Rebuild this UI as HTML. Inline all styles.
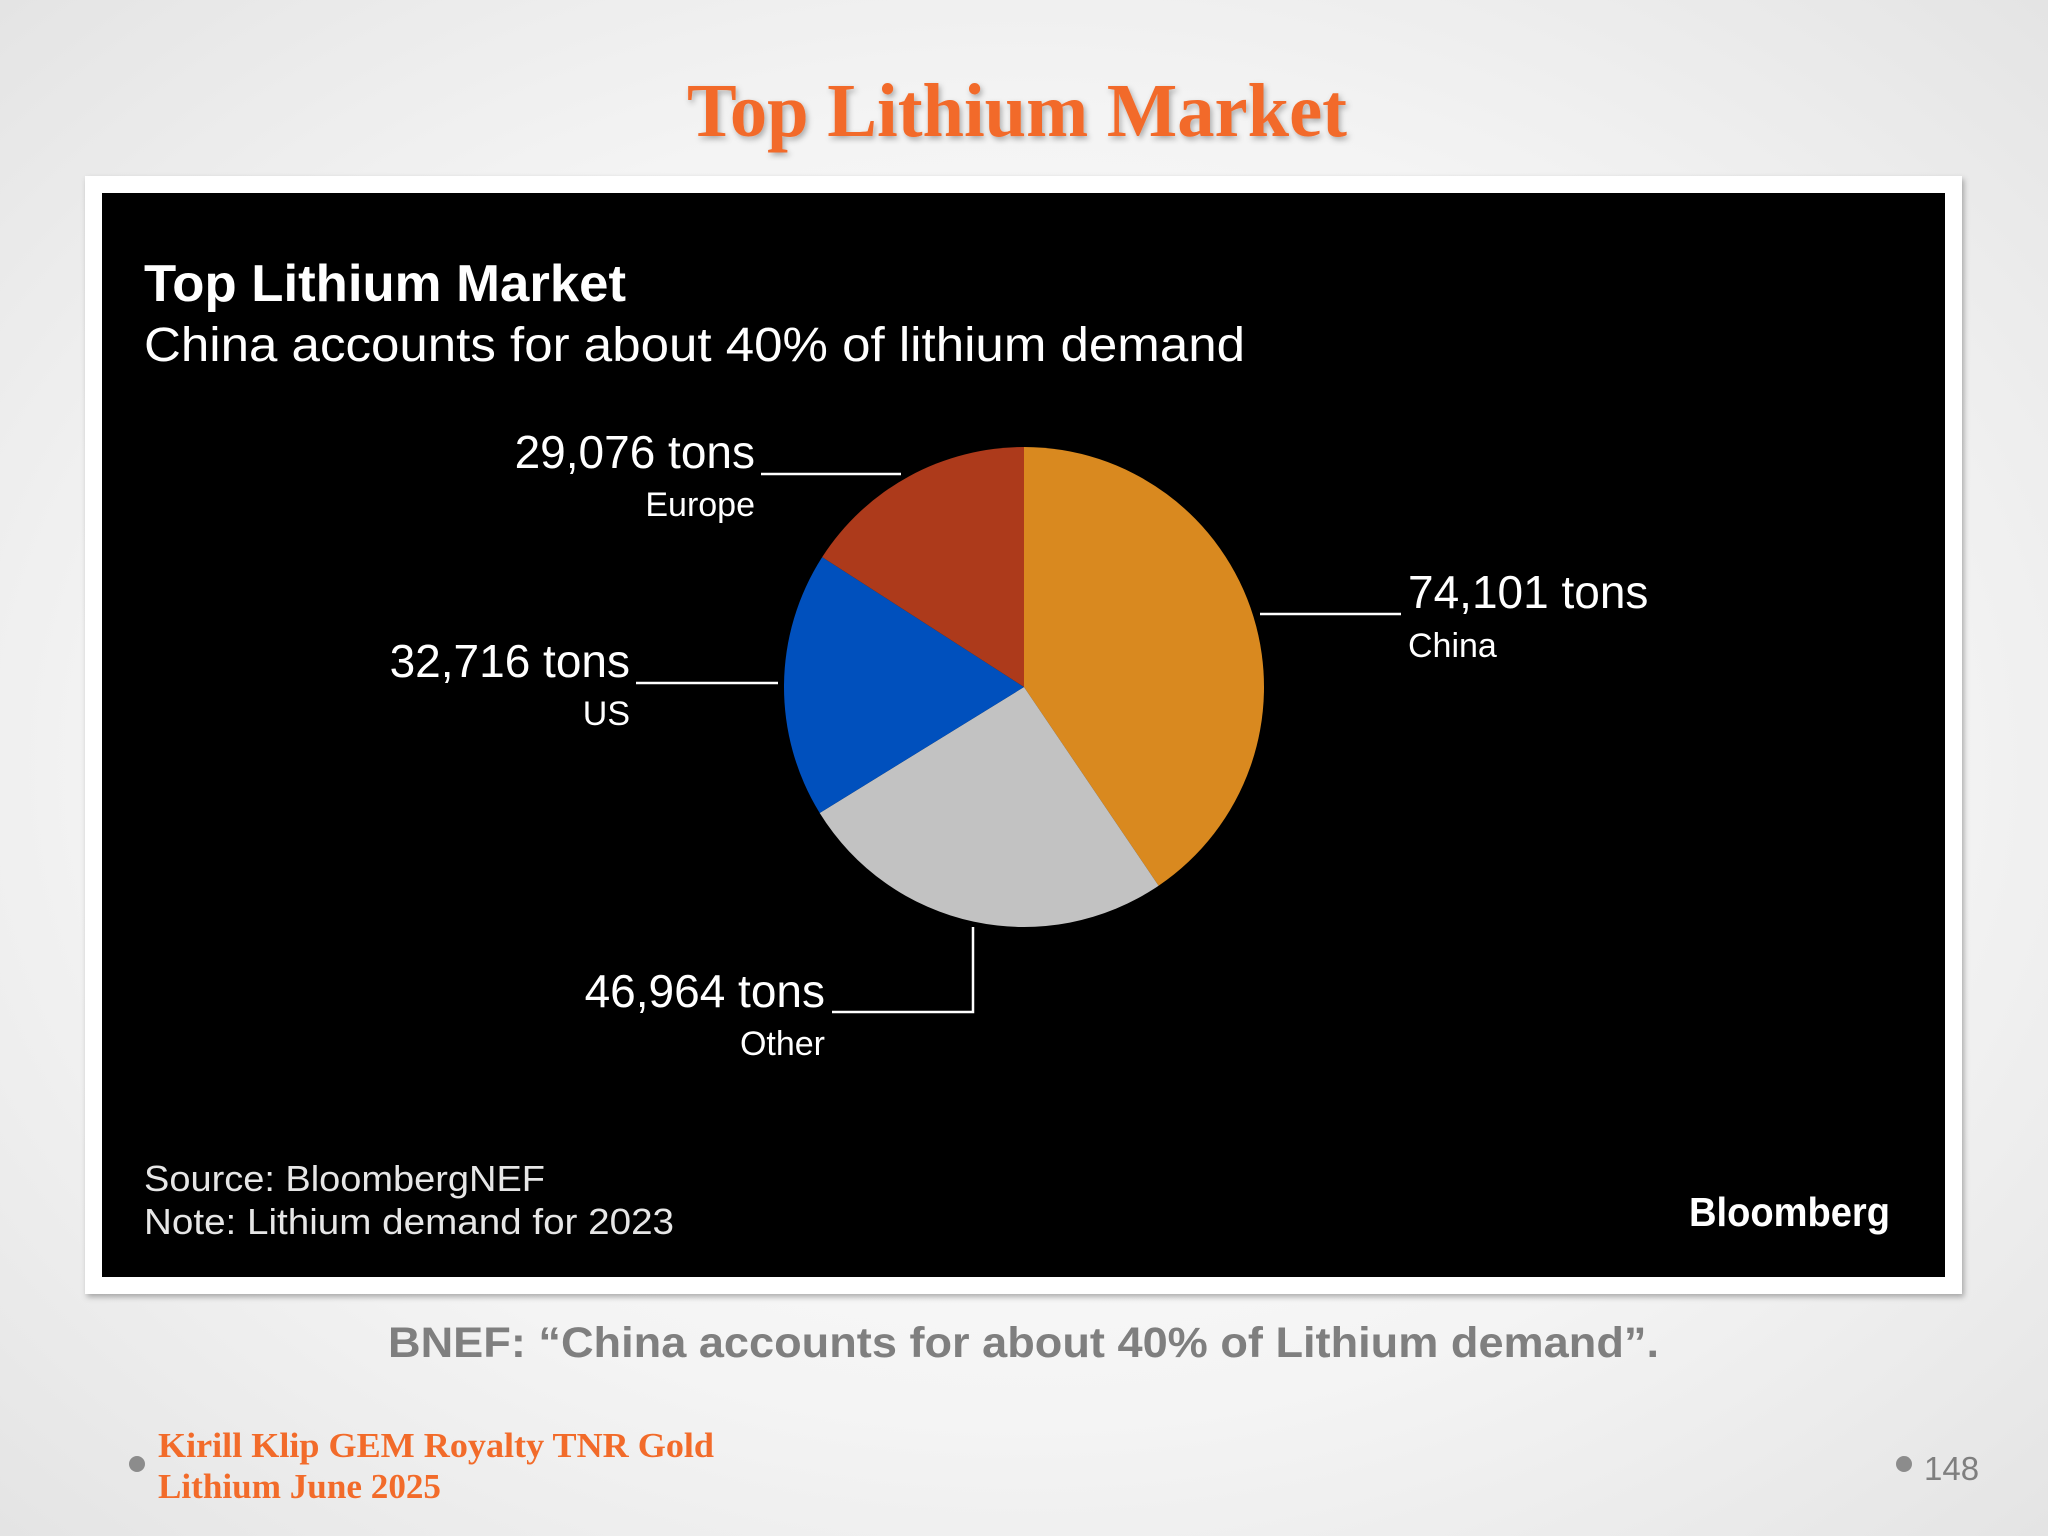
<!DOCTYPE html>
<html><head><meta charset="utf-8"><style>
html,body{margin:0;padding:0;width:2048px;height:1536px;overflow:hidden}
body{background:radial-gradient(ellipse at 50% 50%,#ffffff 0%,#f4f4f4 60%,#e4e4e4 100%)}
svg{display:block}
</style></head><body>
<svg width="2048" height="1536" viewBox="0 0 2048 1536">
<defs><filter id="sh" x="-5%" y="-5%" width="110%" height="115%"><feDropShadow dx="2" dy="3" stdDeviation="3" flood-color="#000" flood-opacity="0.3"/></filter></defs>
<text x="1017" y="136" text-anchor="middle" font-family="Liberation Serif,serif" font-weight="bold" font-size="76" fill="#F26B2A" filter="url(#sh)" textLength="660" lengthAdjust="spacingAndGlyphs">Top Lithium Market</text>
<rect x="85" y="176" width="1877" height="1118" fill="#fff" filter="url(#sh)"/>
<rect x="102" y="193" width="1843" height="1084" fill="#000"/>
<text x="144" y="301" font-family="Liberation Sans,sans-serif" font-weight="bold" font-size="52" fill="#fff" textLength="482" lengthAdjust="spacingAndGlyphs">Top Lithium Market</text>
<text x="144" y="361" font-family="Liberation Sans,sans-serif" font-size="48" fill="#fff" textLength="1101" lengthAdjust="spacingAndGlyphs">China accounts for about 40% of lithium demand</text>
<g id="pie"></g>
<g id="labels" font-family="Liberation Sans,sans-serif" fill="#fff">
<text x="1408" y="608" font-size="46">74,101 tons</text>
<text x="1408" y="657" font-size="34">China</text>
<text x="755" y="468" font-size="46" text-anchor="end">29,076 tons</text>
<text x="755" y="516" font-size="34" text-anchor="end">Europe</text>
<text x="630" y="677" font-size="46" text-anchor="end">32,716 tons</text>
<text x="630" y="725" font-size="34" text-anchor="end">US</text>
<text x="825" y="1007" font-size="46" text-anchor="end">46,964 tons</text>
<text x="825" y="1055" font-size="34" text-anchor="end">Other</text>
</g>
<g stroke="#fff" stroke-width="2.5" fill="none">
<path d="M1260 614H1401"/>
<path d="M761 474H901"/>
<path d="M636 683H778"/>
<path d="M832 1012H973V927"/>
</g>
<text x="144" y="1191" font-family="Liberation Sans,sans-serif" font-size="36" fill="#e6e6e6" textLength="401" lengthAdjust="spacingAndGlyphs">Source: BloombergNEF</text>
<text x="144" y="1234" font-family="Liberation Sans,sans-serif" font-size="36" fill="#e6e6e6" textLength="530" lengthAdjust="spacingAndGlyphs">Note: Lithium demand for 2023</text>
<text x="1689" y="1226" font-family="Liberation Sans,sans-serif" font-weight="bold" font-size="41" fill="#fff" textLength="201" lengthAdjust="spacingAndGlyphs">Bloomberg</text>
<text x="388" y="1357" font-family="Liberation Sans,sans-serif" font-weight="bold" font-size="43" fill="#7f7f7f" textLength="1271" lengthAdjust="spacingAndGlyphs">BNEF: “China accounts for about 40% of Lithium demand”.</text>
<circle cx="137" cy="1464" r="8" fill="#8c8c8c"/>
<text x="158" y="1457" font-family="Liberation Serif,serif" font-weight="bold" font-size="35" fill="#F26B2A" textLength="556" lengthAdjust="spacingAndGlyphs">Kirill Klip GEM Royalty TNR Gold</text>
<text x="158" y="1498" font-family="Liberation Serif,serif" font-weight="bold" font-size="35" fill="#F26B2A" textLength="283" lengthAdjust="spacingAndGlyphs">Lithium June 2025</text>
<circle cx="1904" cy="1464" r="8" fill="#8c8c8c"/>
<text x="1924" y="1480" font-family="Liberation Sans,sans-serif" font-size="33" fill="#7f7f7f">148</text>
</svg>
<script>
const categories=["China","Other","US","Europe"];
const values=[74101,46964,32716,29076];
const colors=["#D9891F","#C2C2C2","#0050BD","#AD3A1B"];
const cx=1024,cy=687,r=240;
const total=values.reduce((a,b)=>a+b,0);
const g=document.getElementById('pie');
let a0=0;
function pt(a){return [cx+r*Math.sin(a),cy-r*Math.cos(a)];}
values.forEach((v,i)=>{
  const a1=a0+v/total*2*Math.PI;
  const p0=pt(a0),p1=pt(a1);
  const large=(a1-a0)>Math.PI?1:0;
  const p=document.createElementNS('http://www.w3.org/2000/svg','path');
  p.setAttribute('d',`M${cx} ${cy}L${p0[0]} ${p0[1]}A${r} ${r} 0 ${large} 1 ${p1[0]} ${p1[1]}Z`);
  p.setAttribute('fill',colors[i]);
  
  
  g.appendChild(p);
  a0=a1;
});
</script>
</body></html>
